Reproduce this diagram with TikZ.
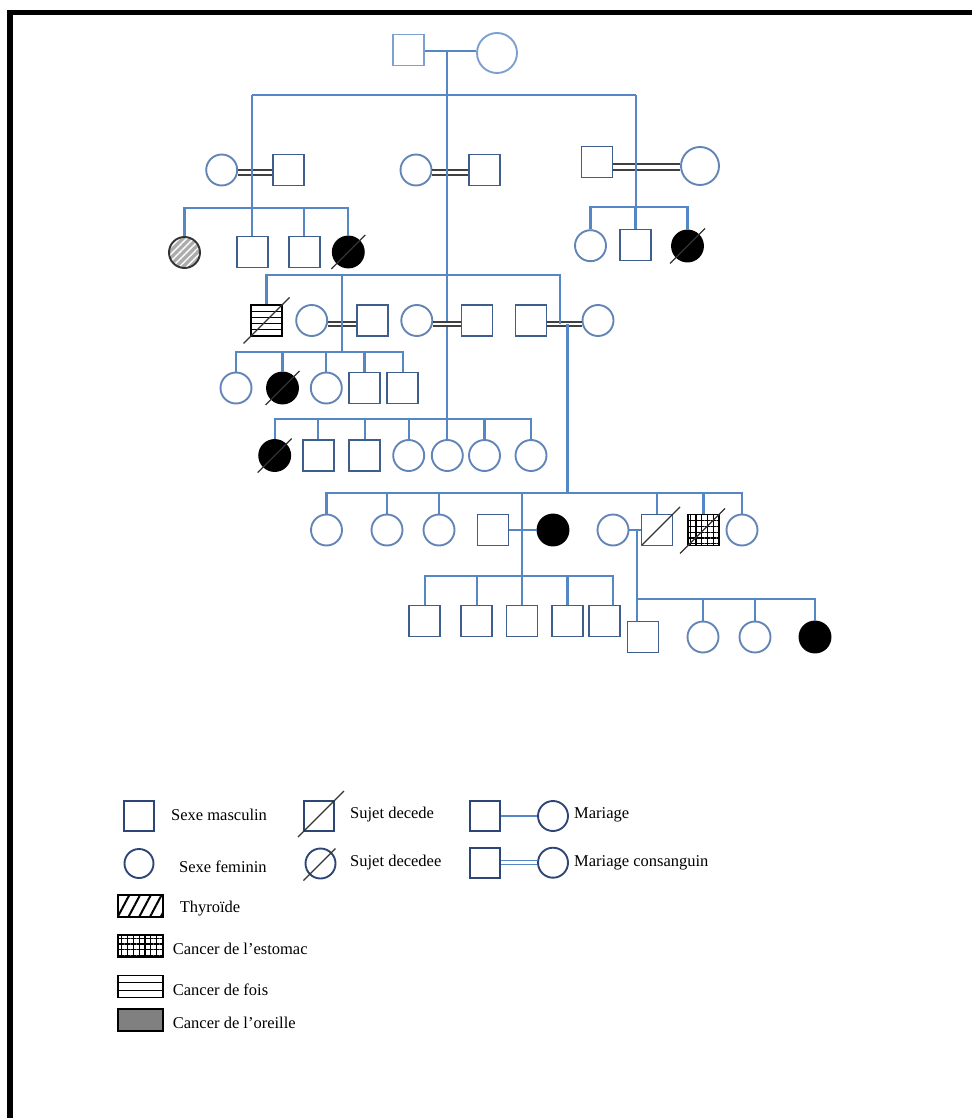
\documentclass[tikz,border=0pt]{standalone}
\usepackage{fontspec}
\setmainfont{Liberation Serif}
\usetikzlibrary{patterns.meta}
\definecolor{linkblue}{RGB}{84,135,196}
\definecolor{boxblue}{RGB}{62,94,140}
\definecolor{ringblue}{RGB}{98,132,182}
\definecolor{topblue}{RGB}{125,160,208}
\definecolor{legblue}{RGB}{45,70,120}

\tikzset{
  link/.style={draw=linkblue, line width=2.1pt},
  male/.style={rectangle, draw=boxblue, line width=1.9pt, minimum size=31pt, inner sep=0pt},
  female/.style={circle, draw=ringblue, line width=1.9pt, minimum size=31pt, inner sep=0pt},
  affected/.style={fill=black, draw=black},
  consang/.style={draw=black!75, line width=1.8pt, double=white, double distance=2.8pt},
  slashline/.style={draw=black!80, line width=1.3pt},
  thyro/.style={preaction={fill=gray!65}, pattern={Lines[angle=45,distance=5pt,line width=1.4pt]},
    pattern color=white, draw=gray!40!black},
  stomach/.style={pattern={Hatch[angle=0,distance=5.8pt,line width=1.2pt]}, pattern color=black, draw=black},
  liver/.style={draw=black, path picture={
      \foreach \k in {#1}
        \draw[black, line width=1.5pt] ([yshift=\k pt]path picture bounding box.west)
          -- ([yshift=\k pt]path picture bounding box.east);}},
  liver/.default={-9,-3,3,9},
  legbox/.style={rectangle, draw=black, line width=1.8pt, minimum width=45pt, minimum height=22pt, inner sep=0pt},
  lbl/.style={anchor=west, inner sep=0pt, font=\fontsize{16.5}{18}\selectfont},
}
% slash through a deceased subject: node, lower-left length, upper-right length
\newcommand{\deceased}[3]{\draw[slashline] ([shift={(-#2,#2)}]#1.center) -- ([shift={(#3,-#3)}]#1.center);}

\begin{document}
\begin{tikzpicture}[x=1pt, y=-1pt]
\useasboundingbox (0,0) rectangle (971,1118);
% frame
\draw[line width=5.5pt] (10,1130) -- (10,12.5) -- (985,12.5);

% generation I
\node[male, draw=topblue] (I1) at (408.5,50) {};
\node[female, draw=topblue, minimum size=40pt] (I2) at (497,53) {};
\coordinate (m1) at (447.3,51);
\coordinate (s1) at (447.3,95);
\draw[link] (I1.east |- m1) -- (I2.west |- m1);

% generation II
\node[female] (II1) at (221.7,170) {};
\node[male] (II2) at (288.7,170) {};
\node[female] (II3) at (416,170) {};
\node[male] (II4) at (484.7,170) {};
\node[male] (II5) at (597,162) {};
\node[female, minimum size=38pt] (II6) at (700,166) {};
\coordinate (j2a) at (251.7,172.5);
\coordinate (j2b) at (447.3,172.5);
\coordinate (j2c) at (635.7,167);
\draw[consang] (II1.east |- j2a) -- (II2.west |- j2a);
\draw[consang] (II3.east |- j2b) -- (II4.west |- j2b);
\draw[consang, line width=2pt, double distance=4.4pt] (II5.east |- j2c) -- (II6.west |- j2c);
\coordinate (s2a) at (251.7,208.3);
\coordinate (s2c) at (635.7,206.7);
\draw[link] (j2a |- s1) -- (j2c |- s1);
\draw[link] (j2a |- s1) -- (s2a);
\draw[link] (j2c |- s1) -- (s2c);
\coordinate (s4b) at (447.3,419);
\draw[link] (m1) -- (s4b);

% generation III, left family
\node[female, thyro] (III1) at (184.5,252.5) {};
\node[male] (III2) at (252.3,252) {};
\node[male] (III3) at (304.3,252) {};
\node[female, affected] (III4) at (348.3,252) {};
\deceased{III4}{17}{17}
\draw[link] (III1.north) -- (III1.north |- s2a) -- (III4.north |- s2a) -- (III4.north);
\foreach \n in {III2,III3}
  \draw[link] (\n.north) -- (\n.north |- s2a);

% generation III, right family
\node[female] (III12) at (590.5,245.7) {};
\node[male] (III13) at (635.5,245) {};
\node[female, affected] (III14) at (687.5,246) {};
\deceased{III14}{17.5}{17.5}
\draw[link] (III12.north) -- (III12.north |- s2c) -- (III14.north |- s2c) -- (III14.north);
\draw[link] (III13.north) -- (III13.north |- s2c);

% generation III, middle family
\coordinate (s3) at (447.3,275);
\node[male, liver] (III5) at (266.5,320.5) {};
\deceased{III5}{23}{23}
\node[female] (III6) at (311.7,320.5) {};
\node[male] (III7) at (372.5,320.5) {};
\node[female] (III8) at (416.8,320.5) {};
\node[male] (III9) at (477,320.5) {};
\node[male] (III10) at (531,320.5) {};
\node[female] (III11) at (598,320.5) {};
\coordinate (j3a) at (341.7,324);
\coordinate (j3b) at (447.3,324);
\coordinate (j3c) at (560,324);
\coordinate (j3d) at (567.5,324);
\draw[consang] (III6.east |- j3a) -- (III7.west |- j3a);
\draw[consang] (III8.east |- j3b) -- (III9.west |- j3b);
\draw[consang] (III10.east |- j3c) -- (III11.west |- j3c);
\draw[link] (III5.north) -- (III5.north |- s3) -- (j3c |- s3) -- (j3c);
\coordinate (s4a) at (341.7,351.7);
\draw[link] (j3a |- s3) -- (s4a);
\coordinate (s5) at (567.5,493.3);
\draw[link] (j3d) -- (s5);

% generation IV
\node[female] (IV1) at (236,388) {};
\node[female, affected] (IV2) at (282.5,388) {};
\deceased{IV2}{17}{17}
\node[female] (IV3) at (326.3,388) {};
\node[male] (IV4) at (364.5,388) {};
\node[male] (IV5) at (402.8,388) {};
\draw[link] (IV1.north) -- (IV1.north |- s4a) -- (IV5.north |- s4a) -- (IV5.north);
\foreach \n in {IV2,IV3,IV4}
  \draw[link] (\n.north) -- (\n.north |- s4a);

\node[female, affected] (IV6) at (274.7,455.5) {};
\deceased{IV6}{17}{17}
\node[male] (IV7) at (318.3,455.5) {};
\node[male] (IV8) at (364.7,455.5) {};
\node[female] (IV9) at (408.7,455.5) {};
\node[female] (IV10) at (447.3,455.5) {};
\node[female] (IV11) at (484.5,455.5) {};
\node[female] (IV12) at (531,455.5) {};
\draw[link] (IV6.north) -- (IV6.north |- s4b) -- (IV12.north |- s4b) -- (IV12.north);
\foreach \n in {IV7,IV8,IV9,IV10,IV11}
  \draw[link] (\n.north) -- (\n.north |- s4b);

% generation V
\node[female] (V1) at (326.5,530) {};
\node[female] (V2) at (387,530) {};
\node[female] (V3) at (439,530) {};
\node[male] (V4) at (493,530) {};
\node[female, affected] (V5) at (553,530) {};
\node[female] (V6) at (613,530) {};
\node[male] (V7) at (657,530) {};
\deceased{V7}{15}{23}
\node[male, stomach] (V8) at (703.5,530) {};
\deceased{V8}{23.5}{21.5}
\node[female] (V9) at (742,530) {};
\draw[link] (V1.north) -- (V1.north |- s5) -- (V9.north |- s5) -- (V9.north);
\foreach \n in {V2,V3,V7,V8}
  \draw[link] (\n.north) -- (\n.north |- s5);
\coordinate (j5a) at (521.7,530);
\coordinate (j5b) at (636.7,530);
\draw[link] (V4.east |- j5a) -- (V5.west |- j5a);
\draw[link] (V6.east |- j5b) -- (V7.west |- j5b);
\coordinate (s6a) at (521.7,576);
\coordinate (s6b) at (636.7,599.3);
\draw[link] (j5a |- s5) -- (s6a);
\draw[link] (j5b) -- (s6b);

% generation VI
\node[male] (VI1) at (424.7,621) {};
\node[male] (VI2) at (476.7,621) {};
\node[male] (VI3) at (522,621) {};
\node[male] (VI4) at (567.5,621) {};
\node[male] (VI5) at (604.7,621) {};
\coordinate (e6a) at (612.7,576);
\draw[link] (VI1.north) -- (VI1.north |- s6a) -- (e6a) -- (e6a |- VI5.north);
\foreach \n in {VI2,VI3,VI4}
  \draw[link] (\n.north) -- (\n.north |- s6a);

\node[male] (VI6) at (643,637) {};
\node[female] (VI7) at (703,637) {};
\node[female] (VI8) at (755,637) {};
\node[female, affected] (VI9) at (815,637) {};
\draw[link] (s6b) -- (VI9.north |- s6b) -- (VI9.north);
\draw[link] (s6b) -- (s6b |- VI6.north);
\foreach \n in {VI7,VI8}
  \draw[link] (\n.north) -- (\n.north |- s6b);

% legend
\node[male, draw=legblue, minimum size=30pt] (Lm) at (139,816) {};
\node[lbl] (tLm) at (171,815) {Sexe masculin};
\node[female, draw=legblue, minimum size=29pt] (Lf) at (139,863.5) {};
\node[lbl] (tLf) at (179,866.5) {Sexe feminin};
\node[male, draw=legblue, minimum size=30pt] (Ld) at (319,816) {};
\deceased{Ld}{21}{25}
\node[lbl] (tLd) at (350,815) {Sujet decede};
\node[female, draw=legblue, minimum size=30pt] (Ldf) at (320.5,863.5) {};
\deceased{Ldf}{17}{15}
\node[lbl] (tLdf) at (350,863) {Sujet decedee};
\node[male, draw=legblue, minimum size=30pt] (Lh) at (485,816) {};
\node[female, draw=legblue, minimum size=30pt] (Lw) at (553,816) {};
\draw[link, line width=1.6pt] (Lh) -- (Lw);
\node[lbl] (tLmar) at (574,815) {Mariage};
\node[male, draw=legblue, minimum size=30pt] (Lh2) at (485,862.7) {};
\node[female, draw=legblue, minimum size=30pt] (Lw2) at (553,862.7) {};
\draw[link, line width=1.2pt, double=white, double distance=2.8pt] (Lh2) -- (Lw2);
\node[lbl] (tLcons) at (574,863) {Mariage consanguin};

\node[legbox, pattern={Lines[angle=62,distance=9.5pt,line width=2pt]}, pattern color=black] (Lt) at (140.8,906) {};
\node[lbl] (tLt) at (179.6,909) {Thyroïde};
\node[legbox, stomach] (Le) at (140.8,946) {};
\node[lbl] (tLe) at (172.7,949) {Cancer de l'estomac};
\node[legbox, liver={-3.8,3.8}] (Lfo) at (140.8,986.5) {};
\node[lbl] (tLfo) at (172.7,990) {Cancer de fois};
\node[legbox, fill=gray] (Lo) at (140.8,1020) {};
\node[lbl] (tLo) at (172.7,1023) {Cancer de l'oreille};
\end{tikzpicture}
\end{document}
